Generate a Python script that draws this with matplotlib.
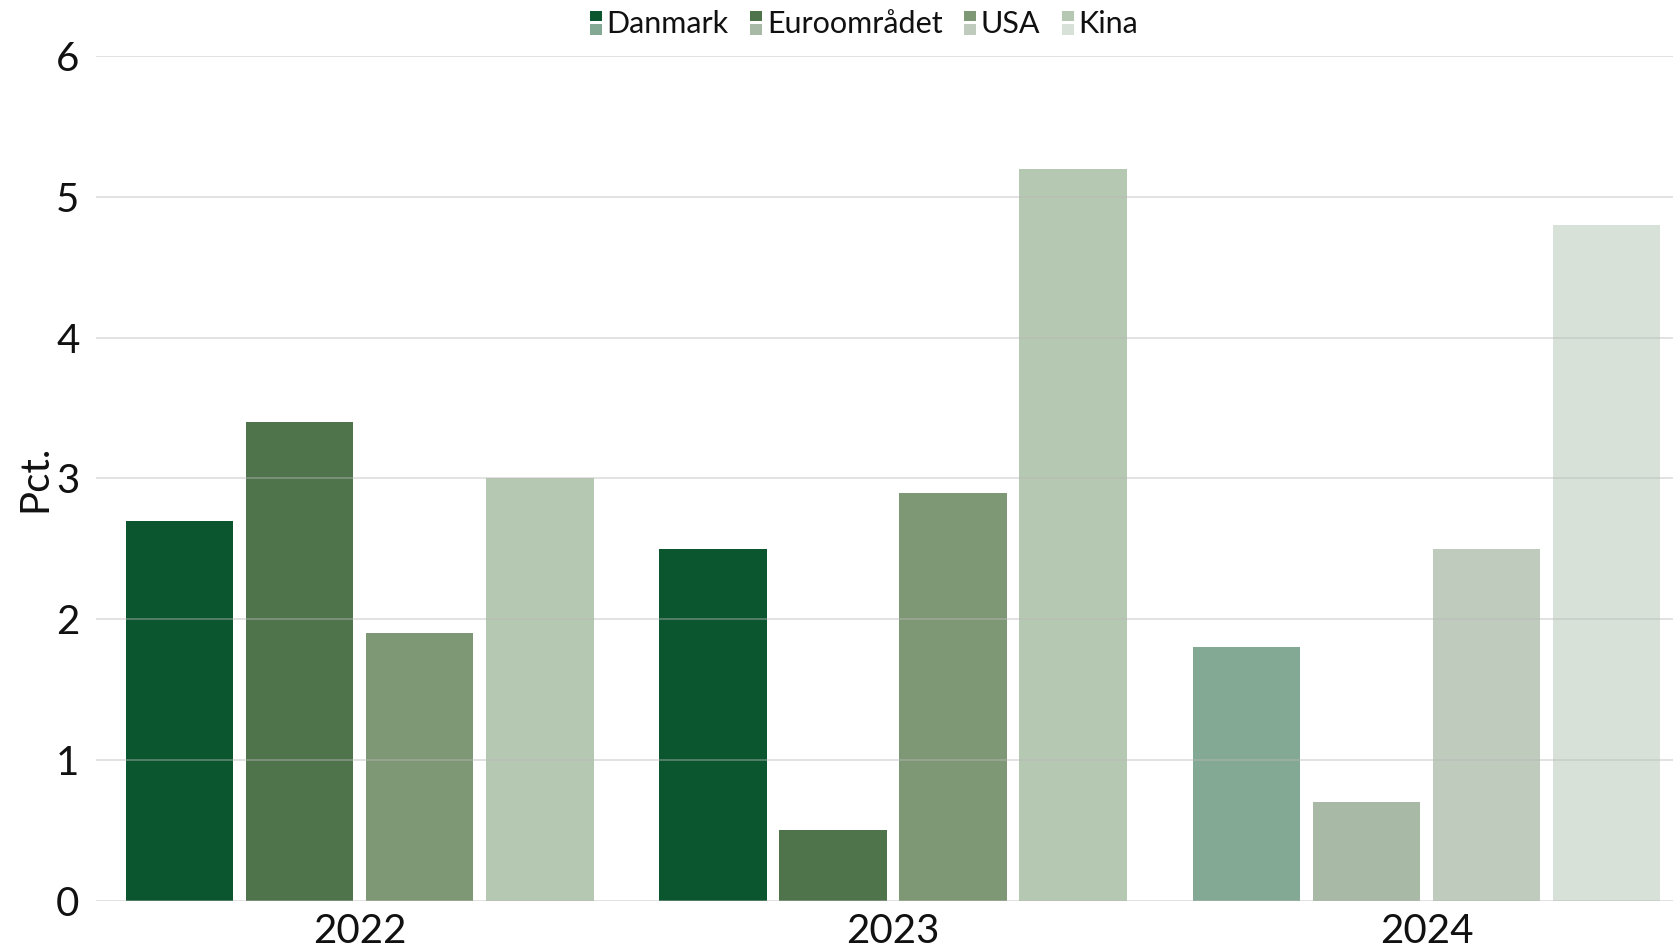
import numpy as np
import matplotlib
matplotlib.use("Agg")
import matplotlib.pyplot as plt
from matplotlib.patches import Rectangle
from matplotlib.legend_handler import HandlerBase


# ============================================================
# DATA
# ============================================================

YEARS = ["2022", "2023", "2024"]
SERIES = ["Danmark", "Euroområdet", "USA", "Kina"]

DANMARK = [2.7, 2.5, 1.8]
EUROOMRAADET = [3.4, 0.5, 0.7]
USA = [1.9, 2.9, 2.5]
KINA = [3.0, 5.2, 4.8]

# 2024 is a forecast -> lighter shade
N_ACTUAL = 2

COLORS_ACTUAL = ["#0b562f", "#4f734b", "#7e9875", "#b5c8b2"]
COLORS_FORECAST = ["#83a994", "#a8b9a6", "#bfcbbc", "#d8e1d7"]

plt.rcParams["font.family"] = ["Lato", "DejaVu Sans"]


# ============================================================
# LEGEND KEY: split square (actual on top, forecast below)
# ============================================================


class LegendKey:
    def __init__(self, top, bottom):
        self.top = top
        self.bottom = bottom


class SplitSquareHandler(HandlerBase):
    def create_artists(self, legend, orig_handle, xdescent, ydescent,
                       width, height, fontsize, trans):
        gap = height * 0.12
        half = (height - gap) / 2
        top = Rectangle((-xdescent, -ydescent + half + gap), width, half,
                        facecolor=orig_handle.top, edgecolor="none",
                        transform=trans)
        bottom = Rectangle((-xdescent, -ydescent), width, half,
                           facecolor=orig_handle.bottom, edgecolor="none",
                           transform=trans)
        return [top, bottom]


# ============================================================
# PLOT
# ============================================================


def main():

    values = [DANMARK, EUROOMRAADET, USA, KINA]

    fig = plt.figure(figsize=(16.73, 9.49), dpi=100)
    ax = fig.add_axes([0.0574, 0.0511, 0.9426, 0.8894])

    x = np.arange(len(YEARS))
    n = len(SERIES)
    step = 0.225
    width = 0.202

    for i, series in enumerate(values):
        colors = [
            COLORS_ACTUAL[i] if j < N_ACTUAL else COLORS_FORECAST[i]
            for j in range(len(YEARS))
        ]
        offset = (i - (n - 1) / 2) * step
        ax.bar(x + offset, series, width=width, color=colors,
               linewidth=0, zorder=1)

    ax.set_xlim(-0.494, 2.462)
    ax.set_ylim(0, 6)
    ax.set_yticks(range(0, 7))
    ax.set_xticks(x)
    ax.set_xticklabels(YEARS)

    ax.grid(axis="y", color="#b8b8b8", alpha=0.45, linewidth=1.3)
    ax.set_axisbelow(False)
    for line in ax.get_ygridlines():
        line.set_zorder(3)

    for spine in ax.spines.values():
        spine.set_visible(False)

    ax.tick_params(axis="both", length=0, labelsize=29, colors="#111111")
    ax.tick_params(axis="y", pad=12)
    ax.tick_params(axis="x", pad=9)

    ax.set_ylabel("Pct.", fontsize=29, color="#111111", labelpad=2)

    handles = [LegendKey(COLORS_ACTUAL[i], COLORS_FORECAST[i])
               for i in range(n)]

    fig.legend(
        handles,
        SERIES,
        handler_map={LegendKey: SplitSquareHandler()},
        loc="upper center",
        bbox_to_anchor=(864 / 1673, 1.018),
        ncol=n,
        frameon=False,
        fontsize=22,
        handlelength=0.4,
        handleheight=0.85,
        handletextpad=0.15,
        columnspacing=0.7,
        labelcolor="#111111",
    )

    fig.savefig("out.png", dpi=100)
    plt.close(fig)


if __name__ == "__main__":
    main()
